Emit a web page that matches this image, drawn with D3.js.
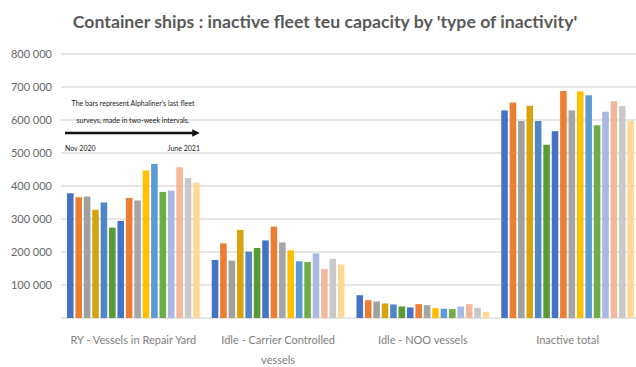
<!DOCTYPE html>
<html><head><meta charset="utf-8">
<script src="https://cdn.jsdelivr.net/npm/d3@7/dist/d3.min.js"></script>
<style>
html,body{margin:0;padding:0;background:#fff;}
svg{display:block;font-family:Lato,"Open Sans",sans-serif;}
</style></head>
<body><svg id="c" width="636" height="367"></svg>
<script>
const title = "Container ships : inactive fleet teu capacity by 'type of inactivity'";
const categories = ["RY - Vessels in Repair Yard", "Idle - Carrier Controlled vessels", "Idle - NOO vessels", "Inactive total"];
const categoryLines = [["RY - Vessels in Repair Yard"], ["Idle - Carrier Controlled", "vessels"], ["Idle - NOO vessels"], ["Inactive total"]];
const surveys = ["S1","S2","S3","S4","S5","S6","S7","S8","S9","S10","S11","S12","S13","S14","S15","S16"];
const repairYard = [378000,366000,368000,328000,350000,274000,294000,364000,356000,447000,467000,382000,386000,457000,424000,410000];
const carrierIdle = [176000,226000,174000,267000,201000,212000,235000,277000,229000,205000,172000,170000,196000,149000,179000,162000];
const nooIdle = [69000,54000,50000,44000,41000,35000,32000,42000,39000,30000,28000,27000,35000,42000,31000,18000];
const inactiveTotal = [629000,653000,597000,643000,597000,525000,566000,688000,629000,687000,675000,584000,625000,657000,642000,597000];
const yTicks = [100000,200000,300000,400000,500000,600000,700000,800000];
const colors = ["#4472C4","#ED7D31","#A0A0A0","#D6A40C","#4F86C6","#5A9A32","#4472C4","#ED7D31","#A5A5A5","#FFC000","#5B9BD5","#70AD47","#A9B9E3","#F4B79A","#C9C9C9","#FFD993"];
const noteLines = ["The bars represent Alphaliner's last fleet", "surveys, made in two-week intervals."];
const startLabel = "Nov 2020", endLabel = "June 2021";

const seriesByCat = [repairYard, carrierIdle, nooIdle, inactiveTotal];
const svg = d3.select("#c");
const mLeft = 61, mRight = 640, mTop = 54, mBottom = 318;

const y = d3.scaleLinear().domain([0, 800000]).range([mBottom, mTop]);
const x0 = d3.scaleBand().domain(categories).range([mLeft, mRight]).padding(0);
const x1 = d3.scaleBand().domain(surveys).range([6, x0.bandwidth() - 6]).paddingInner(0.22);

// gridlines
svg.append("g").selectAll("line").data([0].concat(yTicks)).join("line")
  .attr("x1", mLeft).attr("x2", mRight)
  .attr("y1", d => y(d)).attr("y2", d => y(d))
  .attr("stroke", "#dedede").attr("stroke-width", 1.3);

// y labels
const fmt = d => d3.format(",")(d).replace(/,/g, " ");
svg.append("g").selectAll("text").data(yTicks).join("text")
  .attr("x", 52).attr("y", d => y(d)).attr("dy", "0.35em")
  .attr("text-anchor", "end").attr("font-size", 11).attr("fill", "#666")
  .text(fmt);

// bars
categories.forEach((c, ci) => {
  svg.append("g").attr("transform", `translate(${x0(c)},0)`)
    .selectAll("rect").data(seriesByCat[ci]).join("rect")
    .attr("x", (d, i) => x1(surveys[i]))
    .attr("width", x1.bandwidth())
    .attr("y", d => y(d))
    .attr("height", d => mBottom - y(d))
    .attr("fill", (d, i) => colors[i]);
});

// category labels
categories.forEach((c, ci) => {
  const t = svg.append("text").attr("text-anchor", "middle")
    .attr("font-size", 11).attr("fill", "#808080");
  categoryLines[ci].forEach((line, li) => {
    t.append("tspan").attr("x", x0(c) + x0.bandwidth() / 2)
      .attr("y", 344 + li * 20).text(line);
  });
});

// title
const tt = svg.append("text").attr("x", 325).attr("y", 28).attr("text-anchor", "middle")
  .attr("font-size", 20).attr("font-weight", "bold").attr("fill", "#595959").text(title);
const tw = tt.node().getComputedTextLength();
tt.attr("font-size", 20 * 505 / tw);

// annotation
const noteX = 133;
noteLines.forEach((l, i) => {
  svg.append("text").attr("x", noteX).attr("y", 106 + i * 17).attr("text-anchor", "middle")
    .attr("font-size", 7).attr("fill", "#222").text(l);
});
svg.append("defs").append("marker").attr("id", "ah").attr("viewBox", "0 0 10 10")
  .attr("refX", 5).attr("refY", 5).attr("markerWidth", 3).attr("markerHeight", 3)
  .attr("orient", "auto").append("path").attr("d", "M0,0L10,5L0,10z").attr("fill", "#111");
svg.append("line").attr("x1", 65).attr("x2", 196).attr("y1", 133).attr("y2", 133)
  .attr("stroke", "#111").attr("stroke-width", 2.5).attr("marker-end", "url(#ah)");
svg.append("text").attr("x", 65).attr("y", 151).attr("font-size", 7).attr("fill", "#222").text(startLabel);
svg.append("text").attr("x", 200).attr("y", 151).attr("text-anchor", "end").attr("font-size", 7).attr("fill", "#222").text(endLabel);
</script></body></html>
